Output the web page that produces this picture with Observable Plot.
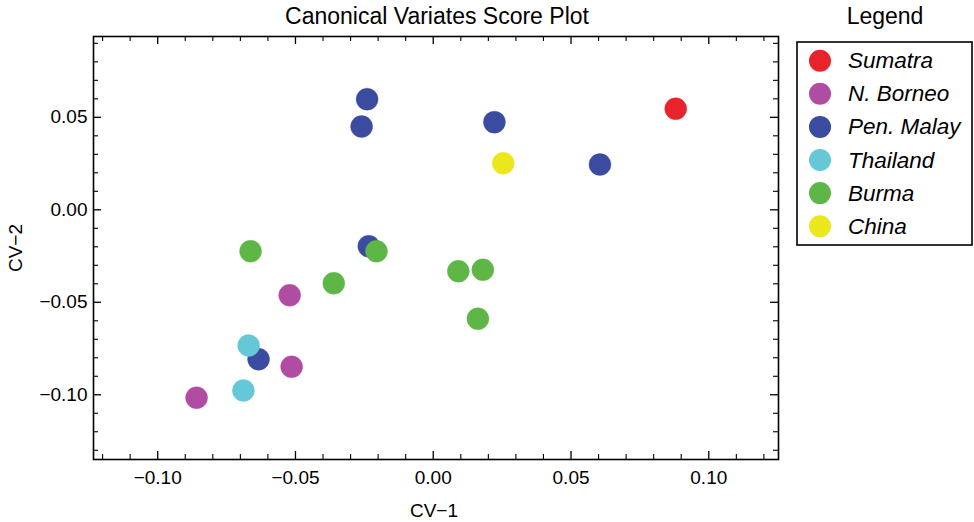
<!DOCTYPE html>
<html><head><meta charset="utf-8">
<script src="https://cdn.jsdelivr.net/npm/d3@7"></script>
<script src="https://cdn.jsdelivr.net/npm/@observablehq/plot@0.6"></script>
<style>
body{margin:0;background:#fff;}
#wrap{position:relative;width:974px;height:522px;font-family:"Liberation Sans",Arial,sans-serif;}
#wrap svg{position:absolute;left:0;top:0;}
</style></head><body><div id="wrap"></div>
<script>
const regions = ["Sumatra", "N. Borneo", "Pen. Malay", "Thailand", "Burma", "China"];
const regionColors = ["#e8232b", "#b04ca2", "#3a4ba0", "#64c8d6", "#5db646", "#ece61c"];

const pointRegion = [
  "Sumatra",
  "N. Borneo", "N. Borneo", "N. Borneo",
  "Pen. Malay", "Pen. Malay", "Pen. Malay", "Pen. Malay", "Pen. Malay", "Pen. Malay",
  "Thailand", "Thailand",
  "Burma", "Burma", "Burma", "Burma", "Burma", "Burma",
  "China"
];
const cv1 = [
  0.0880,
  -0.0521, -0.0514, -0.0859,
  -0.0240, -0.0260, 0.0222, 0.0605, -0.0234, -0.0634,
  -0.0670, -0.0689,
  -0.0663, -0.0206, -0.0361, 0.0091, 0.0180, 0.0162,
  0.0254
];
const cv2 = [
  0.0546,
  -0.0462, -0.0849, -0.1016,
  0.0598, 0.0450, 0.0474, 0.0245, -0.0197, -0.0808,
  -0.0734, -0.0977,
  -0.0224, -0.0224, -0.0397, -0.0332, -0.0324, -0.0589,
  0.0252
];

const majorX = [-0.10, -0.05, 0.00, 0.05, 0.10];
const minorX = [-0.12,-0.11,-0.09,-0.08,-0.07,-0.06,-0.04,-0.03,-0.02,-0.01,0.01,0.02,0.03,0.04,0.06,0.07,0.08,0.09,0.11,0.12];
const majorY = [-0.10, -0.05, 0.00, 0.05];
const minorY = [-0.13,-0.12,-0.11,-0.09,-0.08,-0.07,-0.06,-0.04,-0.03,-0.02,-0.01,0.01,0.02,0.03,0.04,0.06,0.07,0.08,0.09];

const data = pointRegion.map((r, i) => ({region: r, x: cv1[i], y: cv2[i]}));
// draw in legend order
data.sort((a, b) => regions.indexOf(a.region) - regions.indexOf(b.region));

const W = 974, H = 522, mL = 93, mR = 196, mT = 36, mB = 63;
const fw = W - mL - mR, fh = H - mT - mB;
const fmt = d3.format(".2f");

const chart = Plot.plot({
  width: W, height: H,
  marginLeft: mL, marginRight: mR, marginTop: mT, marginBottom: mB,
  style: {fontFamily: "'Liberation Sans', Arial, sans-serif", fontSize: "19px", color: "#000", background: "transparent"},
  x: {domain: [-0.1233, 0.1253], axis: null},
  y: {domain: [-0.135, 0.0937], axis: null},
  color: {domain: regions, range: regionColors},
  marks: [
    Plot.dot(data, {x: "x", y: "y", r: 11, fill: "region", stroke: "region", strokeWidth: 0.6, strokeOpacity: 0.6}),
    Plot.tickX(majorX, {x: d => d, insetTop: fh - 8, stroke: "#000", strokeWidth: 1.3}),
    Plot.tickX(minorX, {x: d => d, insetTop: fh - 5, stroke: "#000", strokeWidth: 1.1}),
    Plot.tickX(majorX, {x: d => d, insetBottom: fh - 8, stroke: "#000", strokeWidth: 1.3}),
    Plot.tickX(minorX, {x: d => d, insetBottom: fh - 5, stroke: "#000", strokeWidth: 1.1}),
    Plot.tickY(majorY, {y: d => d, insetRight: fw - 8, stroke: "#000", strokeWidth: 1.3}),
    Plot.tickY(minorY, {y: d => d, insetRight: fw - 5, stroke: "#000", strokeWidth: 1.1}),
    Plot.tickY(majorY, {y: d => d, insetLeft: fw - 8, stroke: "#000", strokeWidth: 1.3}),
    Plot.tickY(minorY, {y: d => d, insetLeft: fw - 5, stroke: "#000", strokeWidth: 1.1}),
    Plot.axisX(majorX, {tickSize: 0, tickPadding: 11, tickFormat: fmt, fontSize: 19, label: null}),
    Plot.axisY(majorY, {tickSize: 0, tickPadding: 6, tickFormat: fmt, fontSize: 19, label: null}),
    Plot.frame({stroke: "#000", strokeWidth: 1.6})
  ]
});
document.getElementById("wrap").appendChild(chart);

// overlay: title, axis labels, legend
const ov = d3.select("#wrap").append("svg")
  .attr("width", W).attr("height", H)
  .style("font-family", "'Liberation Sans', Arial, sans-serif")
  .style("pointer-events", "none");

ov.append("text").attr("x", 437).attr("y", 24).attr("text-anchor", "middle")
  .attr("font-size", 23).text("Canonical Variates Score Plot");
ov.append("text").attr("x", 434).attr("y", 517).attr("text-anchor", "middle")
  .attr("font-size", 19).text("CV\u22121");
ov.append("text").attr("transform", "translate(22,248) rotate(-90)").attr("text-anchor", "middle")
  .attr("font-size", 19).text("CV\u22122");

ov.append("text").attr("x", 885).attr("y", 24).attr("text-anchor", "middle")
  .attr("font-size", 23).text("Legend");
ov.append("rect").attr("x", 797).attr("y", 42).attr("width", 175).attr("height", 203)
  .attr("fill", "none").attr("stroke", "#000").attr("stroke-width", 1.6);
const items = ov.selectAll("g.item").data(regions).join("g")
  .attr("transform", (d, i) => `translate(0,${60.7 + 33.1 * i})`);
items.append("circle").attr("cx", 820).attr("cy", 0).attr("r", 11)
  .attr("fill", (d, i) => regionColors[i]);
items.append("text").attr("x", 848).attr("y", 7.5).attr("font-size", 22.5)
  .attr("font-style", "italic").text(d => d);
</script>
</body></html>
